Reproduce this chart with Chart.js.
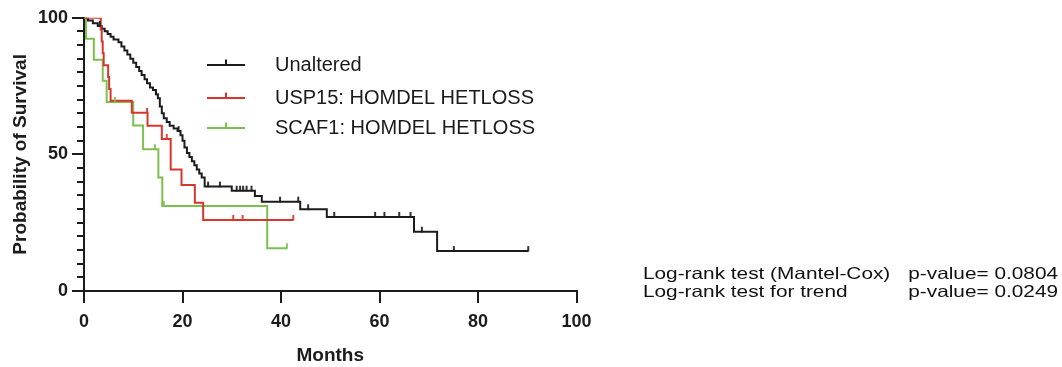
<!DOCTYPE html>
<html>
<head>
<meta charset="utf-8">
<title>Overall survival</title>
<script src="https://cdn.jsdelivr.net/npm/chart.js@4.4.1/dist/chart.umd.min.js"></script>
<style>
  html, body { margin: 0; padding: 0; background: #ffffff; }
  #wrap { position: relative; width: 1062px; height: 367px; }
</style>
</head>
<body>
<div id="wrap"><canvas id="km" width="1062" height="367"></canvas></div>
<script>
const FONT = "'Liberation Sans', Arial, Helvetica, sans-serif";

// Kaplan–Meier steps: month at which each survival level (%) begins
const unalteredMonths = [0, 0.8, 1.8, 2.8, 3.6, 4.2, 4.8, 5.4, 6.0, 7.0, 7.6, 8.2, 8.8, 9.4, 10.0, 10.6, 11.2, 11.7, 12.3, 12.8,
  13.4, 14.0, 14.6, 15.0, 15.4, 15.8, 16.2, 16.8, 17.4, 18.2, 19.0, 19.6, 20.0, 20.4, 20.9, 21.4, 21.9, 22.4, 22.9, 23.4,
  23.9, 24.5, 30.0, 34.7, 36.1, 43.9, 49.3, 67.0, 71.7, 90.2];
const unalteredSurvival = [100, 99.0, 98.0, 97.0, 96.0, 95.0, 94.0, 93.0, 92.0, 91.0, 89.5, 88.0, 86.5, 85.0, 83.5, 82.0, 80.5, 79.0, 77.5, 76.0,
  74.5, 73.5, 72.0, 70.5, 67.5, 65.0, 63.2, 61.8, 60.5, 59.5, 58.5, 57.0, 55.0, 52.5, 50.5, 49.0, 47.5, 46.0, 44.5, 43.0,
  41.5, 38.2, 36.7, 34.8, 32.7, 29.9, 27.1, 21.7, 14.6, 14.6];
const unalteredCensored = [3.2, 14.6, 19.2, 25.2, 27.6, 31.0, 31.7, 32.3, 33.0, 34.0, 39.8, 43.5, 45.5, 50.8, 59.1, 61.0, 64.0, 66.3, 68.6, 75.1, 90.2];

const usp15Months = [0, 3.4, 3.6, 3.8, 4.0, 4.9, 5.1, 5.4, 9.7, 12.9, 15.8, 17.6, 19.8, 22.5, 24.2, 42.5];
const usp15Survival = [100, 95.7, 91.3, 87.0, 82.6, 78.3, 73.9, 69.6, 65.2, 60.5, 55.6, 44.5, 38.8, 32.3, 26.0, 26.0];
const usp15Censored = [12.8, 16.8, 30.3, 32.2, 42.5];

const scaf1Months = [0, 0.4, 2.0, 3.8, 4.6, 10.0, 12.0, 15.1, 15.9, 37.2, 41.2];
const scaf1Survival = [100, 92.3, 84.6, 76.9, 69.2, 60.6, 51.9, 41.5, 31.1, 15.6, 15.6];
const scaf1Censored = [6.3, 14.4, 16.2, 41.2];

const seriesNames = ['Unaltered', 'USP15: HOMDEL HETLOSS', 'SCAF1: HOMDEL HETLOSS'];
const xTickStep = 20;
const yTickStep = 50;
const yMinorStep = 5;
const statLabels = ['Log-rank test (Mantel-Cox)', 'Log-rank test for trend'];
const statValues = ['p-value= 0.0804', 'p-value= 0.0249'];

const COLORS = ['#1c1c1c', '#d8362c', '#7dbf4f'];
const AXIS = '#1c1c1c';

// survival level in force at a given month
function levelAt(months, surv, t) {
  let v = surv[0];
  for (let i = 0; i < months.length; i++) { if (months[i] <= t) v = surv[i]; }
  return v;
}
const toPoints = (xs, ys) => xs.map((x, i) => ({ x: x, y: ys[i] }));
const censorPoints = (cs, xs, ys) => cs.map(t => ({ x: t, y: levelAt(xs, ys, t) }));

// small upward tick used to mark censored subjects
function tickMark(color) {
  const c = document.createElement('canvas');
  c.width = 4; c.height = 12;
  const g = c.getContext('2d');
  g.strokeStyle = color; g.lineWidth = 1.8;
  g.beginPath(); g.moveTo(2, 1); g.lineTo(2, 6.5); g.stroke();
  return c;
}

const curves = [
  { months: unalteredMonths, surv: unalteredSurvival, cens: unalteredCensored, order: 2 },
  { months: usp15Months, surv: usp15Survival, cens: usp15Censored, order: 0 },
  { months: scaf1Months, surv: scaf1Survival, cens: scaf1Censored, order: 1 }
];

const datasets = [];
curves.forEach((c, i) => {
  datasets.push({
    type: 'line', label: seriesNames[i],
    data: toPoints(c.months, c.surv),
    stepped: 'before', borderColor: COLORS[i], borderWidth: 2,
    pointRadius: 0, fill: false, order: c.order + 3
  });
  datasets.push({
    type: 'scatter', label: seriesNames[i] + ' censored',
    data: censorPoints(c.cens, c.months, c.surv),
    pointStyle: tickMark(COLORS[i]), pointRadius: 6, showLine: false, order: c.order
  });
});

// minor ticks on the survival axis
const minorTicks = {
  id: 'minorTicks',
  afterDraw(chart) {
    const y = chart.scales.y, left = chart.chartArea.left, g = chart.ctx;
    g.save(); g.strokeStyle = AXIS; g.lineWidth = 2;
    for (let k = 1; k * yMinorStep < y.max; k++) {
      const v = k * yMinorStep;
      if (v % yTickStep === 0) continue;
      const py = Math.round(y.getPixelForValue(v));
      g.beginPath(); g.moveTo(left - 7, py); g.lineTo(left, py); g.stroke();
    }
    g.restore();
  }
};

// legend with line-and-tick symbols
const seriesLegend = {
  id: 'seriesLegend',
  afterDraw(chart) {
    const g = chart.ctx;
    const rows = [65, 98, 128];
    g.save();
    seriesNames.forEach((name, i) => {
      const y = rows[i];
      g.strokeStyle = COLORS[i]; g.lineWidth = 2;
      g.beginPath(); g.moveTo(207, y); g.lineTo(245, y); g.stroke();
      g.beginPath(); g.moveTo(226, y); g.lineTo(226, y - 5.5); g.stroke();
      g.fillStyle = '#1a1a1a'; g.font = '20px ' + FONT;
      g.textAlign = 'left'; g.textBaseline = 'middle';
      g.fillText(name, 275, y);
    });
    g.restore();
  }
};

// log-rank test results
const statsText = {
  id: 'statsText',
  afterDraw(chart) {
    const g = chart.ctx, baselines = [279, 296.5], sx = 1.26;
    g.save();
    g.fillStyle = '#111111'; g.font = '16.5px ' + FONT; g.textBaseline = 'alphabetic';
    statLabels.forEach((lab, i) => {
      g.save(); g.translate(643, baselines[i]); g.scale(sx, 1);
      g.textAlign = 'left'; g.fillText(lab, 0, 0); g.restore();
      g.save(); g.translate(1058, baselines[i]); g.scale(sx, 1);
      g.textAlign = 'right'; g.fillText(statValues[i], 0, 0); g.restore();
    });
    g.restore();
  }
};

const tickFont = { family: FONT, size: 18, weight: 'bold' };
const titleFont = { family: FONT, size: 19, weight: 'bold' };

new Chart(document.getElementById('km'), {
  type: 'line',
  data: { datasets: datasets },
  options: {
    responsive: false,
    animation: false,
    events: [],
    layout: { padding: { top: 17.7, right: 485.5, bottom: 0, left: 0 } },
    plugins: { legend: { display: false }, tooltip: { enabled: false } },
    scales: {
      x: {
        type: 'linear', min: 0, max: 100,
        ticks: { stepSize: xTickStep, font: tickFont, color: '#1c1c1c', padding: 8, maxRotation: 0 },
        grid: { drawOnChartArea: false, tickLength: 12, lineWidth: 2, color: AXIS },
        border: { color: AXIS, width: 2 },
        title: { display: true, text: 'Months', font: titleFont, color: '#1c1c1c', padding: { top: 0, bottom: 0 } },
        afterFit(s) { s.height = 76; }
      },
      y: {
        type: 'linear', min: 0, max: 100,
        ticks: { stepSize: yTickStep, font: tickFont, color: '#1c1c1c', padding: 4 },
        grid: { drawOnChartArea: false, tickLength: 12, lineWidth: 2, color: AXIS },
        border: { color: AXIS, width: 2 },
        title: { display: true, text: 'Probability of Survival', font: titleFont, color: '#1c1c1c', padding: { top: 9, bottom: 0 } },
        afterFit(s) { s.width = 84; }
      }
    }
  },
  plugins: [minorTicks, seriesLegend, statsText]
});
</script>
</body>
</html>
